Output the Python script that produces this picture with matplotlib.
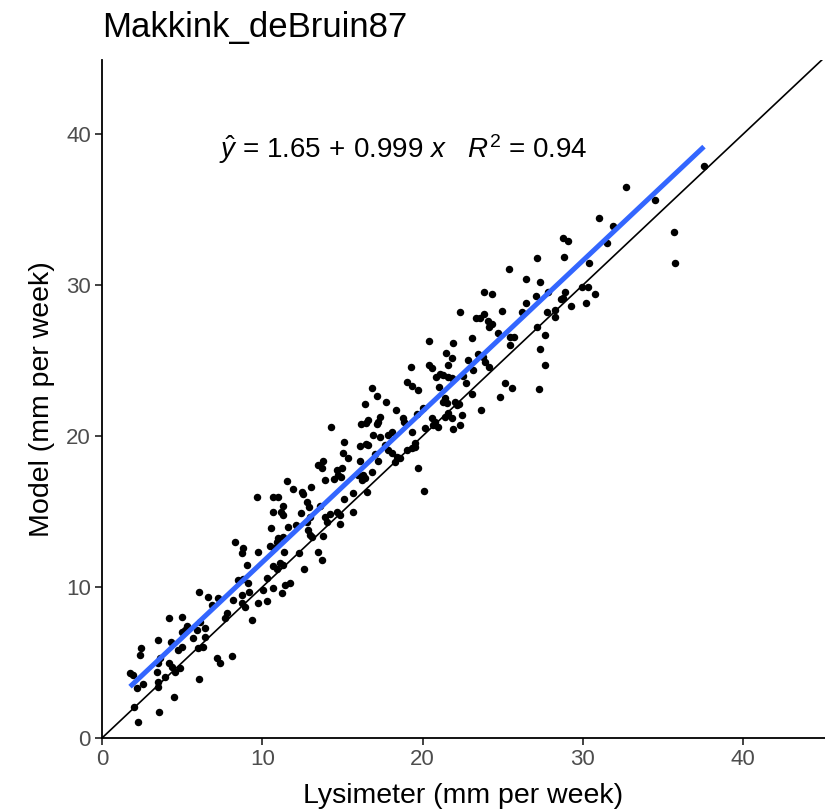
import matplotlib
matplotlib.use('Agg')
import matplotlib.pyplot as plt
import numpy as np

# Lysimeter (x) and Model (y), mm per week
lysimeter = [
    8.30, 8.78, 8.71, 9.75, 9.06, 8.50, 8.78, 9.13, 6.07, 6.59, 7.25, 8.19, 8.75, 9.19, 8.71, 8.92,
    9.75, 6.84, 7.78, 7.67, 9.34, 4.20, 5.01, 5.32, 5.18, 4.97, 6.11, 6.43, 5.91, 6.43, 5.70, 3.51,
    4.30, 4.97, 4.76, 2.41, 2.37, 6.01, 6.32, 7.19, 7.36, 8.13, 3.62, 3.51, 4.20, 4.35, 4.87, 4.55,
    3.41, 1.75, 1.95, 3.93, 6.07, 3.51, 3.51, 2.58, 2.16, 4.51, 2.00, 3.57, 2.26, 9.65,
    17.14, 16.82, 19.73, 16.41, 17.72, 18.34, 18.76, 18.84, 17.34, 16.14, 16.47, 16.61, 17.14, 17.24,
    19.63, 14.29, 18.07, 17.86, 16.92, 17.34, 19.32, 15.10, 16.09, 16.47, 16.61, 17.65, 17.86, 19.53,
    15.02, 15.36, 16.09, 17.03, 17.24, 18.07, 18.38, 18.59, 18.28, 19.01, 19.32, 19.53, 19.73, 13.81,
    13.49, 13.71, 14.64, 14.95, 14.74, 14.47, 14.89, 13.91, 15.99, 16.30, 16.41, 16.20, 16.82, 11.52,
    13.02, 11.93, 12.46, 12.56, 16.51, 15.64, 10.65, 11.00, 12.77, 12.93, 15.10, 11.27, 11.15, 11.31,
    10.65, 12.41, 13.60, 14.22, 14.64, 14.85, 15.64, 13.91, 14.02, 12.98, 12.77, 14.85, 11.62, 12.10,
    10.52, 12.87, 12.98, 13.08, 13.81, 11.31, 11.00, 10.90, 10.48, 10.73, 11.35, 12.31, 13.49, 13.71,
    10.69, 11.10, 11.31, 10.90, 12.60, 10.27, 11.42, 11.73, 10.65, 10.02, 11.21, 10.31,
    19.26, 19.01, 19.32,
    27.12, 28.82, 25.41, 26.45, 27.32, 23.85, 24.31, 27.84, 28.88, 28.78, 28.61, 27.07, 26.45, 22.33,
    24.93, 26.18, 27.74, 28.26, 28.26, 29.26, 23.33, 23.58, 23.85, 24.10, 24.31, 24.16, 24.72, 27.12,
    27.64, 25.45, 25.70, 25.45, 23.06, 20.42, 21.92, 27.32, 21.44, 21.81, 21.60, 22.85, 23.47, 23.79,
    23.89, 24.14, 20.42, 20.57, 27.64, 23.16, 21.09, 21.29, 21.60, 21.81, 20.84, 22.50, 22.71, 21.04,
    25.14, 25.56, 27.26, 23.06, 24.83, 21.40, 21.29, 21.50, 22.02, 22.16, 22.29, 23.62, 20.04, 21.60,
    21.40, 21.81, 22.44, 20.57, 20.77, 20.98, 20.67, 20.15, 22.33, 21.92, 20.09, 28.74, 29.05,
    37.55, 32.69, 34.50, 31.02, 31.90, 35.68, 31.48, 30.40, 35.76, 29.92, 30.34, 30.75, 30.19,
]
model = [
    13.00, 12.56, 12.23, 12.34, 11.46, 10.46, 10.51, 10.25, 9.69, 9.36, 9.25, 9.14, 9.47, 9.69, 8.92, 8.70,
    8.92, 8.81, 8.26, 7.93, 7.81, 7.93, 7.99, 7.42, 7.15, 7.04, 7.70, 7.26, 7.15, 6.71, 6.60, 6.49,
    6.38, 6.05, 5.83, 5.94, 5.50, 5.94, 6.01, 5.28, 4.95, 5.43, 5.28, 4.95, 4.95, 4.72, 4.62, 4.39,
    4.39, 4.28, 4.17, 4.06, 3.89, 3.73, 3.40, 3.58, 3.29, 2.74, 2.07, 1.74, 1.08, 15.94,
    22.65, 23.20, 23.05, 22.12, 22.23, 21.72, 21.17, 20.95, 21.24, 20.77, 20.84, 21.06, 20.77, 20.95,
    21.46, 20.62, 20.29, 20.07, 20.07, 19.95, 20.29, 19.58, 19.34, 19.47, 19.40, 19.40, 19.07, 19.52,
    18.85, 18.52, 18.36, 18.81, 18.36, 18.85, 18.63, 18.52, 18.30, 19.07, 19.19, 19.29, 17.86, 18.36,
    18.08, 17.86, 17.75, 17.86, 17.42, 17.13, 17.26, 17.09, 17.42, 17.42, 17.20, 17.09, 17.64, 17.04,
    16.64, 16.49, 16.27, 16.16, 16.31, 16.21, 15.94, 15.98, 15.65, 15.32, 15.83, 15.36, 14.99, 14.77,
    14.99, 14.88, 15.36, 14.83, 14.99, 14.77, 14.99, 14.66, 14.32, 14.66, 14.32, 14.17, 13.99, 14.11,
    13.89, 13.77, 13.44, 13.33, 13.40, 13.33, 13.23, 13.00, 12.72, 12.56, 12.34, 12.23, 12.34, 11.79,
    11.39, 11.57, 11.46, 11.17, 11.17, 10.58, 10.13, 10.28, 9.91, 9.80, 9.58, 9.09,
    24.59, 23.60, 23.33,
    31.77, 31.83, 31.04, 30.38, 30.22, 29.56, 29.40, 29.56, 29.56, 29.12, 29.05, 29.29, 28.79, 28.19,
    28.28, 28.23, 28.19, 28.34, 27.90, 28.63, 27.79, 27.79, 28.08, 27.62, 27.42, 27.24, 26.84, 27.20,
    26.69, 26.58, 26.54, 26.03, 26.47, 26.31, 26.18, 25.74, 25.48, 25.15, 24.70, 25.03, 25.41, 25.25,
    24.92, 24.59, 24.70, 24.48, 24.70, 24.37, 24.11, 24.04, 23.93, 23.82, 23.89, 23.97, 23.53, 23.23,
    23.49, 23.20, 23.09, 22.78, 22.56, 22.50, 22.27, 22.17, 22.27, 22.05, 22.12, 21.72, 21.83, 21.50,
    21.28, 21.17, 21.39, 21.17, 20.95, 20.62, 20.73, 20.51, 20.73, 20.44, 16.38, 33.13, 32.91,
    37.88, 36.51, 35.63, 34.46, 33.91, 33.53, 32.80, 31.44, 31.44, 29.89, 29.85, 29.40, 28.79,
]

fit_intercept = 1.65
fit_slope = 0.999
r_squared = 0.94

x_ticks = [0, 10, 20, 30, 40]
y_ticks = [0, 10, 20, 30, 40]

plt.rcParams['font.family'] = ['Liberation Sans', 'DejaVu Sans']
plt.rcParams['mathtext.fontset'] = 'custom'
plt.rcParams['mathtext.rm'] = 'Liberation Sans'
plt.rcParams['mathtext.it'] = 'Liberation Sans:italic'

fig = plt.figure(figsize=(8.25, 8.11), dpi=100)
ax = fig.add_axes([102 / 825, 73 / 811, 723 / 825, 678 / 811])

x = np.array(lysimeter)
y = np.array(model)
ax.scatter(x, y, s=29, c='black', linewidths=0, zorder=2)
ax.axline((0, 0), slope=1, color='black', lw=1.2, zorder=3)
xs = np.array([x.min(), x.max()])
ax.plot(xs, fit_intercept + fit_slope * xs, color='#3366FF', lw=3.6,
        solid_capstyle='butt', zorder=4)

ax.set_xlim(0, 45.1)
ax.set_ylim(0, 44.9)
ax.set_xticks(x_ticks)
ax.set_yticks(y_ticks)
for s in ['top', 'right']:
    ax.spines[s].set_visible(False)
for s in ['left', 'bottom']:
    ax.spines[s].set_linewidth(1.3)
    ax.spines[s].set_color('black')
ax.tick_params(direction='out', length=5, width=1.3, color='#333333',
               labelcolor='#4D4D4D', labelsize=16, pad=3)

ax.set_xlabel('Lysimeter (mm per week)', fontsize=20.5, labelpad=9)
ax.set_ylabel('Model (mm per week)', fontsize=20.5, labelpad=8)
fig.text(102 / 825, 1 - 28 / 811, 'Makkink_deBruin87', fontsize=25,
         ha='left', va='center')

label = (r'$\hat{y}$ = ' + f'{fit_intercept:.2f}' + r'$\,+\,$' + f'{fit_slope:.3f}'
         + r' $x$   $R^2$ = ' + f'{r_squared:.2f}')
ax.text(18.8, 39.0, label, ha='center', va='center', fontsize=20)

fig.savefig('out.png', dpi=100)
